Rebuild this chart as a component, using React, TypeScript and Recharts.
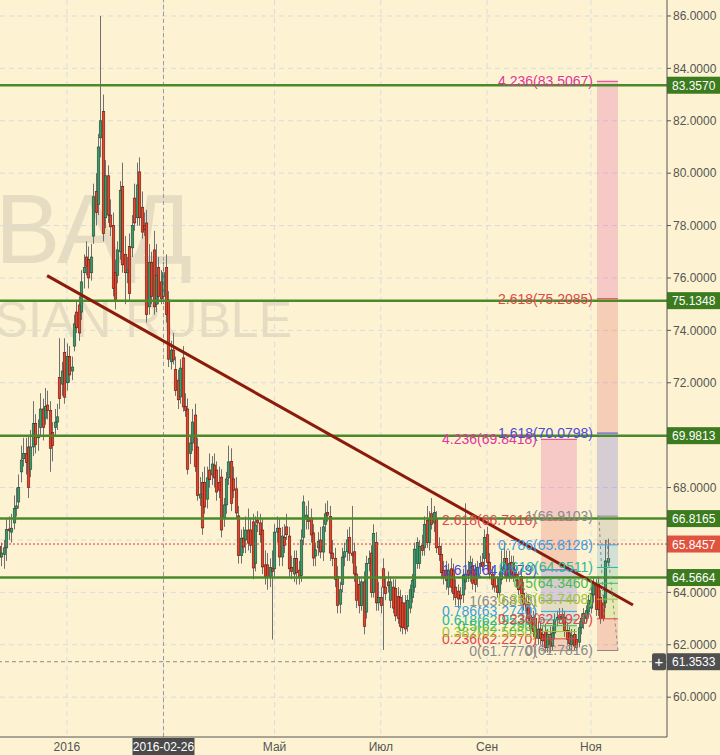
import React from 'react';
import { ComposedChart, Bar, XAxis, YAxis, CartesianGrid, ReferenceLine, ReferenceArea } from 'recharts';

const BG = '#fdf3d2';
const FONT = '"Liberation Sans", Arial, sans-serif';

// daily USD/RUB candles, [open, high, low, close], one per trading day
const candles: [number, number, number, number][] = [
  [65.75, 66.0, 64.4, 65.35], [65.35, 65.9, 65.0, 65.5], [65.45, 66.0, 64.9, 65.7], [65.7, 66.8, 65.2, 66.4],
  [66.42, 66.9, 66.0, 66.35], [66.3, 67.0, 65.9, 66.45], [66.65, 67.7, 66.4, 67.2], [67.2, 68.0, 66.9, 67.3],
  [67.45, 68.5, 67.2, 68.0], [68.6, 69.6, 68.2, 69.05], [69.1, 69.9, 68.8, 69.3], [69.3, 69.9, 68.5, 68.95],
  [69.55, 70.0, 67.6, 68.0], [68.7, 70.2, 68.4, 69.55], [69.55, 71.3, 69.2, 70.45], [70.45, 70.8, 69.3, 69.65],
  [69.9, 70.6, 69.4, 70.0], [70.3, 71.6, 70.0, 71.0], [71.0, 71.4, 69.8, 70.3], [70.65, 71.8, 70.4, 71.1],
  [71.15, 71.7, 70.6, 70.95], [70.95, 71.3, 68.6, 69.5], [70.1, 70.5, 69.0, 69.6], [70.3, 71.0, 70.0, 70.5],
  [70.5, 71.2, 70.2, 70.7], [72.2, 73.7, 71.0, 71.4], [71.95, 72.8, 71.5, 72.45], [73.15, 73.7, 71.2, 71.45],
  [72.0, 73.5, 71.7, 73.0], [73.0, 73.4, 72.0, 72.3], [72.45, 73.0, 72.1, 72.6], [73.4, 74.6, 73.2, 74.25],
  [74.7, 75.1, 73.9, 74.1], [74.97, 75.3, 73.6, 73.9], [74.7, 76.3, 74.4, 75.85], [76.2, 76.9, 75.6, 76.4],
  [76.8, 77.4, 76.1, 76.45], [76.7, 77.2, 75.6, 76.0], [76.2, 77.3, 75.9, 76.8], [77.6, 79.6, 77.3, 79.1],
  [79.3, 80.0, 78.0, 78.5], [78.8, 81.5, 78.4, 81.0], [81.35, 86.0, 80.6, 82.0], [82.35, 83.0, 77.4, 77.7],
  [78.3, 80.5, 77.9, 79.9], [79.9, 80.3, 78.1, 78.4], [78.4, 79.0, 77.6, 77.95], [78.0, 78.5, 75.3, 75.6],
  [76.2, 76.7, 74.8, 75.1], [76.1, 77.4, 75.8, 77.07], [77.0, 79.7, 76.7, 79.35], [79.5, 80.4, 76.2, 76.5],
  [76.9, 77.6, 75.0, 76.2], [76.2, 76.8, 75.8, 76.3], [77.2, 77.7, 75.1, 75.4], [77.15, 78.4, 76.8, 78.0],
  [79.05, 79.6, 77.8, 78.1], [78.3, 80.4, 78.0, 79.55], [80.05, 80.6, 78.0, 78.3], [78.7, 79.3, 77.5, 77.75],
  [78.0, 78.5, 77.6, 77.85], [78.1, 78.6, 74.3, 74.6], [74.9, 77.3, 74.6, 76.6], [76.6, 77.0, 75.0, 75.3],
  [77.07, 77.8, 74.6, 74.9], [75.0, 77.3, 74.7, 76.1], [76.4, 76.8, 75.0, 75.3], [75.85, 76.3, 75.0, 75.2],
  [75.3, 76.6, 75.0, 76.2], [76.4, 76.9, 74.3, 74.6], [75.16, 75.5, 72.6, 72.9], [72.8, 73.6, 72.5, 73.25],
  [73.25, 73.9, 72.7, 72.87], [72.5, 73.0, 71.5, 71.7], [72.1, 72.5, 71.0, 71.35], [71.46, 72.9, 71.2, 72.56],
  [72.95, 73.4, 70.9, 71.08], [71.1, 71.6, 70.7, 70.95], [71.0, 71.4, 68.5, 68.7], [69.3, 70.0, 68.9, 69.7],
  [69.7, 71.0, 69.4, 70.5], [70.77, 71.2, 68.6, 68.8], [69.55, 69.9, 67.5, 67.7], [67.6, 68.4, 67.3, 67.75],
  [68.2, 68.6, 66.2, 66.46], [68.2, 68.8, 67.0, 67.26], [67.56, 68.8, 67.2, 68.37], [68.67, 69.3, 68.0, 68.3],
  [68.48, 69.2, 68.1, 68.9], [68.86, 69.3, 68.0, 68.37], [68.67, 69.0, 67.5, 67.83], [68.2, 68.8, 67.6, 67.9],
  [68.4, 68.7, 66.1, 66.38], [66.84, 67.6, 66.5, 67.34], [67.34, 68.6, 67.0, 68.33], [68.37, 69.6, 68.1, 68.98],
  [69.0, 69.5, 67.1, 67.4], [68.33, 68.8, 67.6, 67.9], [67.95, 68.4, 66.8, 67.03], [66.92, 67.3, 65.1, 65.4],
  [65.4, 66.4, 65.1, 66.07], [66.07, 66.5, 65.5, 65.73], [66.0, 66.9, 65.5, 66.38], [66.38, 67.2, 65.6, 65.88],
  [66.38, 66.8, 65.5, 65.8], [66.69, 67.0, 64.5, 64.93], [65.1, 66.9, 64.8, 66.57], [66.76, 67.1, 66.3, 66.65],
  [66.65, 67.0, 65.9, 66.2], [66.38, 66.8, 64.7, 64.97], [65.05, 65.6, 64.3, 64.6], [65.05, 65.5, 64.1, 64.6],
  [64.6, 65.3, 64.2, 64.95], [64.9, 65.6, 62.2, 64.8], [64.9, 66.6, 64.6, 66.3], [66.3, 66.9, 65.9, 66.45],
  [66.45, 66.8, 65.0, 65.35], [65.35, 66.5, 65.0, 66.15], [66.1, 66.6, 65.5, 65.8], [66.5, 67.0, 66.0, 66.2],
  [66.15, 66.5, 64.6, 64.9], [64.95, 65.4, 64.5, 64.8], [64.7, 65.6, 64.4, 65.3], [65.3, 65.6, 64.3, 64.75],
  [64.85, 65.2, 64.3, 64.55], [64.65, 66.4, 64.4, 66.0], [66.1, 67.7, 65.8, 67.45], [66.8, 67.3, 66.4, 66.95],
  [66.85, 67.5, 66.4, 66.7], [66.84, 67.2, 65.9, 66.19], [66.27, 66.6, 65.0, 65.31], [65.39, 65.9, 65.0, 65.62],
  [65.7, 66.3, 65.4, 65.95], [66.0, 66.5, 65.3, 65.54], [65.54, 66.8, 65.2, 66.5], [66.6, 67.4, 66.3, 67.0],
  [67.05, 67.5, 66.7, 66.95], [66.9, 67.3, 65.2, 65.5], [65.5, 66.0, 65.0, 65.3], [65.3, 65.7, 64.2, 64.5],
  [64.6, 65.0, 63.2, 63.5], [63.55, 64.4, 63.2, 64.1], [64.3, 65.7, 64.0, 65.35], [65.35, 65.9, 65.0, 65.55],
  [65.55, 66.4, 65.2, 66.0], [66.1, 66.5, 65.2, 65.5], [65.5, 67.3, 65.1, 65.4], [65.55, 65.9, 64.4, 64.7],
  [64.7, 65.0, 63.4, 63.7], [64.3, 64.6, 63.2, 63.5], [63.5, 64.5, 63.3, 64.4], [64.4, 64.8, 62.4, 62.7],
  [63.25, 65.4, 63.0, 65.1], [65.1, 65.6, 64.8, 65.3], [65.5, 65.8, 63.8, 64.0], [64.0, 66.6, 63.8, 66.25],
  [65.9, 66.3, 63.3, 63.6], [63.6, 64.4, 63.3, 63.8], [63.8, 64.2, 63.2, 63.5], [64.9, 65.3, 61.8, 64.2],
  [64.2, 64.6, 63.7, 63.95], [64.4, 64.8, 64.0, 64.25], [63.7, 64.6, 63.4, 64.4], [64.2, 64.5, 63.2, 63.4],
  [64.15, 64.5, 62.9, 63.1], [63.85, 64.2, 62.8, 63.0], [63.8, 64.1, 62.5, 62.7], [63.6, 63.9, 62.4, 62.65],
  [63.6, 63.9, 62.4, 62.6], [62.7, 63.9, 62.5, 63.7], [63.4, 64.3, 63.2, 64.1], [63.8, 64.7, 63.6, 64.45],
  [64.2, 65.9, 64.0, 65.65], [65.1, 66.1, 64.9, 65.9], [65.1, 66.0, 64.9, 65.75], [65.8, 66.2, 65.4, 65.6],
  [65.7, 66.9, 65.4, 66.6], [66.75, 67.3, 65.7, 65.9], [65.9, 67.1, 65.6, 66.8], [67.0, 67.6, 66.4, 66.6],
  [66.65, 67.3, 66.3, 67.05], [66.8, 67.1, 65.5, 65.7], [65.75, 66.1, 65.2, 65.45], [65.45, 65.8, 64.5, 64.75],
  [64.85, 65.2, 64.3, 64.55], [64.85, 65.2, 64.1, 64.45], [64.2, 65.1, 63.9, 64.85], [64.9, 65.3, 64.0, 64.2],
  [64.85, 65.1, 63.7, 63.95], [64.2, 64.5, 63.5, 63.8], [64.05, 64.3, 63.4, 63.75], [63.9, 64.2, 63.5, 63.75],
  [63.9, 64.9, 63.6, 64.65], [64.4, 67.4, 64.1, 64.7], [64.85, 65.2, 64.4, 64.65], [64.7, 65.4, 64.4, 65.15],
  [65.0, 65.3, 64.1, 64.35], [64.85, 65.1, 64.0, 64.3], [64.55, 65.2, 64.2, 64.95], [65.0, 65.4, 64.7, 65.1],
  [65.15, 65.5, 64.8, 65.0], [65.3, 66.4, 65.0, 66.1], [66.2, 66.5, 64.9, 65.15], [65.15, 65.5, 64.5, 64.7],
  [64.7, 65.0, 64.1, 64.3], [64.55, 64.9, 64.0, 64.2], [64.25, 64.6, 63.8, 64.0], [64.0, 64.8, 63.8, 64.55],
  [64.5, 65.6, 64.3, 64.9], [64.9, 65.9, 64.6, 65.3], [65.3, 65.6, 64.4, 64.6], [64.6, 65.6, 64.4, 65.1],
  [65.15, 65.4, 64.5, 64.7], [65.1, 65.4, 64.4, 64.6], [64.7, 65.0, 64.2, 64.45], [64.55, 64.8, 63.9, 64.1],
  [64.6, 64.9, 63.7, 63.9], [63.95, 64.4, 63.3, 63.55], [63.55, 63.9, 63.1, 63.3], [63.6, 63.9, 62.8, 63.0],
  [63.1, 63.4, 62.4, 62.6], [63.05, 63.3, 62.3, 62.5], [63.0, 63.2, 62.0, 62.25], [62.25, 62.9, 62.0, 62.6],
  [62.6, 62.9, 62.0, 62.25], [62.4, 62.7, 61.9, 62.15], [62.5, 62.8, 61.7, 61.9], [61.9, 62.6, 61.7, 62.4],
  [62.4, 62.7, 61.7, 61.95], [61.95, 62.7, 61.8, 62.45], [62.45, 63.2, 62.2, 62.95], [62.95, 63.3, 62.7, 63.05],
  [63.1, 63.4, 62.8, 63.0], [63.0, 63.4, 62.8, 63.15], [63.05, 63.3, 62.3, 62.55], [62.55, 62.8, 62.0, 62.2],
  [62.45, 62.7, 61.8, 62.05], [62.0, 62.6, 61.8, 62.35], [62.4, 62.6, 61.8, 61.95], [62.2, 62.4, 61.78, 61.9],
  [62.1, 62.9, 61.9, 62.65], [62.65, 63.2, 62.4, 63.0], [62.85, 63.4, 62.6, 63.2], [63.0, 63.5, 62.8, 63.3],
  [63.25, 63.9, 63.0, 63.7], [63.4, 64.2, 63.2, 63.95], [63.9, 64.6, 63.6, 64.35], [64.35, 64.5, 63.1, 63.35],
  [64.3, 64.6, 63.1, 63.35], [63.8, 64.1, 62.8, 63.0], [63.6, 63.9, 62.9, 63.0], [63.6, 66.0, 63.4, 65.2],
  [65.15, 66.05, 65.0, 65.3],
];

const dayTicks = [28, 68, 114, 158, 202, 245];
const dayLabels = ['2016', '2016-02-26', 'Май', 'Июл', 'Сен', 'Ноя'];
const priceTicks = [60, 62, 64, 68, 72, 74, 76, 78, 80, 82, 84, 86];
const gridPrices = [60, 62, 64, 66, 68, 70, 72, 74, 76, 78, 80, 82, 84, 86];

const levelPrices = [83.357, 75.1348, 69.9813, 66.8165, 64.5664];
const lastPrice = 65.8457;
const cursorPrice = 61.3533;
const cursorDay = 68;

const trendFrom = { day: 19.8, price: 76.09 };
const trendTo = { day: 262.4, price: 63.52 };

const fibRatios = ['0', '0.236', '0.382', '0.5', '0.618', '0.786', '1', '1.618', '2.618', '4.236'];
const fibColors = ['#8a8a8a', '#e0474c', '#9cc437', '#4cbb4c', '#27b99a', '#3a9fe0', '#8a8a8a', '#4b4bd8', '#e0474c', '#e0369c'];
const fibAPrices = [61.777, 62.227, 62.505, 62.729, 62.953, 63.274, 63.681, 64.8579, 66.7616, 69.8418];
const fibBPrices = [61.7816, 62.992, 63.7408, 64.346, 64.9511, 65.8128, 66.9103, 70.0798, 75.2085, 83.5067];
const fibADays = [224.3, 239.2];
const fibBDays = [247.5, 256.2];

const rows = candles.map((k, i) => ({ day: i, o: k[0], h: k[1], l: k[2], c: k[3], range: [k[2], k[1]] }));

const CandleShape = (props: any) => {
  const { x, y, width, height, payload } = props;
  if (!payload || height == null) return null;
  const top = Math.min(y, y + height);
  const full = Math.abs(height);
  const { o, h, l, c } = payload;
  const k = full / (h - l);
  const cx = Math.round(x + width / 2) + 0.5;
  const bTop = top + (h - Math.max(o, c)) * k;
  const bBot = top + (h - Math.min(o, c)) * k;
  const up = c >= o;
  return (
    <g>
      <line x1={cx} x2={cx} y1={top} y2={top + full} stroke="#707070" strokeWidth={1} />
      <rect
        x={cx - 1.25}
        y={bTop}
        width={2.5}
        height={Math.max(bBot - bTop, 1)}
        fill={up ? '#3a9a6a' : '#e8432c'}
        stroke={up ? '#1d4a32' : '#5e1a0e'}
        strokeWidth={0.6}
      />
    </g>
  );
};

const PriceTag = (props: any) => {
  const { viewBox, text, fill } = props;
  if (!viewBox) return null;
  const left = viewBox.x + viewBox.width;
  const y = viewBox.y;
  return (
    <g>
      <rect x={left} y={y - 8.5} width={53} height={17} fill={fill} />
      <text x={left + 5} y={y + 4.5} fill="#fff" fontSize={12} fontFamily={FONT}>{text}</text>
    </g>
  );
};

const CursorTag = (props: any) => {
  const { viewBox } = props;
  if (!viewBox) return null;
  const left = viewBox.x + viewBox.width;
  const y = viewBox.y;
  return (
    <g>
      <rect x={left - 15} y={y - 8.5} width={14} height={17} rx={2} fill="#505050" />
      <text x={left - 8} y={y + 5} fill="#fff" fontSize={15} textAnchor="middle" fontFamily={FONT}>+</text>
      <rect x={left} y={y - 8.5} width={53} height={17} fill="#505050" />
      <text x={left + 5} y={y + 4.5} fill="#fff" fontSize={12} fontFamily={FONT}>61.3533</text>
    </g>
  );
};

const DayTick = (props: any) => {
  const { x, y, payload } = props;
  const i = dayTicks.indexOf(payload.value);
  const label = dayLabels[i] ?? '';
  if (label === '2016-02-26') {
    return (
      <g>
        <rect x={x - 31} y={y + 1} width={62} height={17} fill="#4a4a4a" />
        <text x={x} y={y + 14} fill="#fff" fontSize={12} textAnchor="middle" fontFamily={FONT}>{label}</text>
      </g>
    );
  }
  return (
    <text x={x} y={y + 14} fill="#555" fontSize={12} textAnchor="middle" fontFamily={FONT}>{label}</text>
  );
};

function fibLayer(prices: number[], days: number[], key: string) {
  const out: React.ReactNode[] = [];
  prices.forEach((p, i) => {
    if (i > 0) {
      out.push(
        <ReferenceArea
          key={`${key}-a${i}`}
          x1={days[0]}
          x2={days[1]}
          y1={prices[i - 1]}
          y2={p}
          fill={fibColors[i]}
          fillOpacity={0.22}
          stroke="none"
        />
      );
    }
  });
  return out;
}

function fibLines(prices: number[], days: number[], key: string) {
  return prices.map((p, i) => (
    <ReferenceLine
      key={`${key}-l${i}`}
      segment={[{ x: days[0], y: p }, { x: days[1], y: p }]}
      stroke={fibColors[i]}
      strokeWidth={1}
      label={{
        value: `${fibRatios[i]}(${p.toFixed(4)})`,
        position: 'left',
        offset: 4,
        fill: fibColors[i],
        fontSize: 14,
        fontFamily: FONT,
      }}
    />
  ));
}

export default function App() {
  return (
    <div style={{ position: 'relative', width: 720, height: 755, background: BG, overflow: 'hidden', fontFamily: FONT }}>
      <style>{'body{margin:0}'}</style>
      <svg width={720} height={755} style={{ position: 'absolute', left: 0, top: 0 }}>
        <text x={-5} y={263} fontSize={98} fill="#e6dcc1" fontFamily={FONT}>ВАД</text>
        <text x={292} y={337} fontSize={50} fill="#e6dcc1" textAnchor="end" fontFamily={FONT}>RUSSIAN RUBLE</text>
      </svg>
      <div style={{ position: 'absolute', left: 0, top: 0 }}>
        <ComposedChart width={720} height={755} data={rows} margin={{ top: 0, right: 0, bottom: 0, left: 0 }}>
          <CartesianGrid
            stroke="#d9dbe0"
            strokeDasharray="5 4"
            horizontalValues={gridPrices}
            verticalValues={dayTicks}
          />
          <XAxis
            dataKey="day"
            type="number"
            domain={[0.3, 276.5]}
            allowDataOverflow
            ticks={dayTicks}
            tick={<DayTick />}
            tickLine={false}
            tickSize={0}
            tickMargin={0}
            height={18}
            axisLine={{ stroke: '#555' }}
            interval={0}
          />
          <YAxis
            orientation="right"
            type="number"
            domain={[58.48, 86.61]}
            allowDataOverflow
            ticks={priceTicks}
            tickFormatter={(v: number) => v.toFixed(4)}
            tick={{ fill: '#555', fontSize: 12, fontFamily: FONT }}
            tickSize={4}
            tickMargin={2}
            width={53}
            axisLine={{ stroke: '#555' }}
            tickLine={{ stroke: '#555' }}
            interval={0}
          />
          {fibLayer(fibAPrices, fibADays, 'fa')}
          {fibLayer(fibBPrices, fibBDays, 'fb')}
          <ReferenceLine x={cursorDay} stroke="#9a9aa2" strokeDasharray="4 3" />
          <Bar dataKey="range" barSize={2} shape={<CandleShape />} isAnimationActive={false} />
          {levelPrices.map((p) => (
            <ReferenceLine
              key={`lv${p}`}
              y={p}
              stroke="#4b8a2b"
              strokeWidth={2.5}
              label={<PriceTag text={p.toFixed(4)} fill="#3c7b1e" />}
            />
          ))}
          <ReferenceLine
            y={lastPrice}
            stroke="#e53935"
            strokeDasharray="2 2"
            label={<PriceTag text={lastPrice.toFixed(4)} fill="#e0533f" />}
          />
          <ReferenceLine y={cursorPrice} stroke="#8a8a8a" strokeDasharray="4 3" label={<CursorTag />} />
          <ReferenceLine
            segment={[{ x: trendFrom.day, y: trendFrom.price }, { x: trendTo.day, y: trendTo.price }]}
            stroke="#8b1c0c"
            strokeWidth={3}
          />
          <ReferenceLine
            segment={[{ x: 213.5, y: 64.8 }, { x: 230.3, y: 61.9 }]}
            stroke="#8a8a8a"
            strokeDasharray="3 3"
          />
          <ReferenceLine
            segment={[{ x: 248.3, y: 66.9103 }, { x: 250.5, y: 63.0 }]}
            stroke="#8a8a8a"
            strokeDasharray="3 3"
          />
          <ReferenceLine
            segment={[{ x: 251.5, y: 66.0 }, { x: 256.2, y: 61.7816 }]}
            stroke="#8a8a8a"
            strokeDasharray="3 3"
          />
          {fibLines(fibAPrices, fibADays, 'fa')}
          {fibLines(fibBPrices, fibBDays, 'fb')}
        </ComposedChart>
      </div>
    </div>
  );
}
